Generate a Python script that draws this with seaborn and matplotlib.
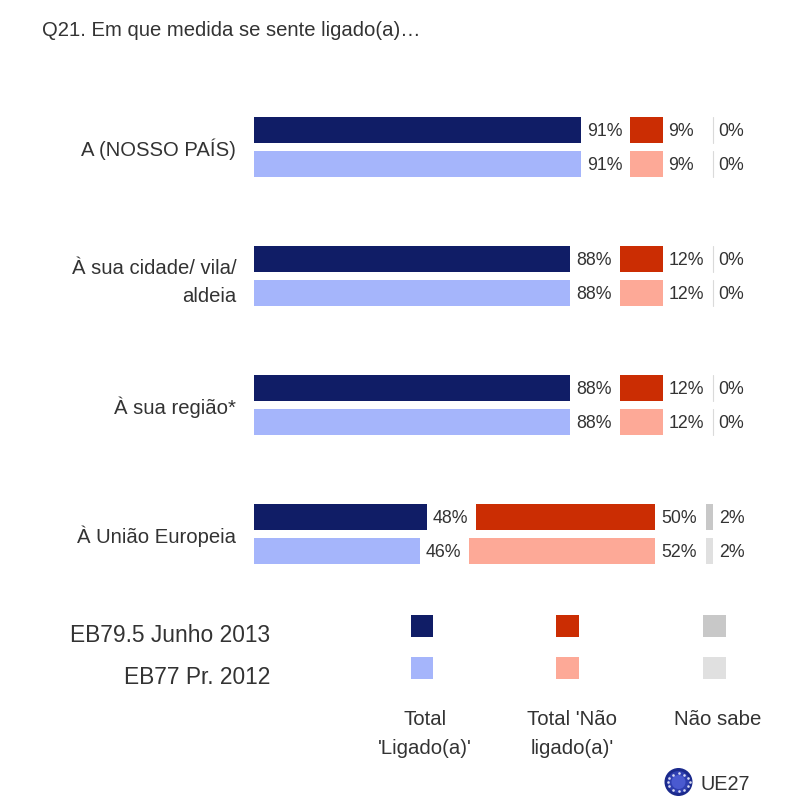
import matplotlib
matplotlib.use("Agg")
import matplotlib.pyplot as plt
import pandas as pd
import seaborn as sns
from matplotlib.patches import Circle, Rectangle

categories = ["A (NOSSO PAÍS)", "À sua cidade/ vila/\naldeia", "À sua região*", "À União Europeia"]
waves = ["EB79.5 Junho 2013", "EB77 Pr. 2012"]
ligado_2013 = [91, 88, 88, 48]
ligado_2012 = [91, 88, 88, 46]
nao_ligado_2013 = [9, 12, 12, 50]
nao_ligado_2012 = [9, 12, 12, 52]
nao_sabe_2013 = [0, 0, 0, 2]
nao_sabe_2012 = [0, 0, 0, 2]
legend_titles = ["Total\n'Ligado(a)'", "Total 'Não\nligado(a)'", "Não sabe"]
title = "Q21. Em que medida se sente ligado(a)…"

colors = {
    "lig": ["#101D66", "#A5B5FB"],
    "nao": ["#CB2D03", "#FDA997"],
    "ns": ["#C8C8C8", "#E0E0E0"],
}
TXT = "#333333"
FONT = "Liberation Sans"
GAP1, GAP2 = 13.7, 14.0

sns.set_theme(style="white")
plt.rcParams["font.family"] = [FONT, "DejaVu Sans"]

fig = plt.figure(figsize=(8.06, 8.06), dpi=100, facecolor="white")
W = H = 806.0
ax = fig.add_axes([254.4 / W, 1 - 598.4 / H, 500 / W, 516 / H])

df = pd.DataFrame({
    "cat": categories * 2,
    "wave": [waves[0]] * 4 + [waves[1]] * 4,
    "lig": ligado_2013 + ligado_2012,
})
sns.barplot(data=df, y="cat", x="lig", hue="wave", order=categories, hue_order=waves,
            palette=colors["lig"], width=0.527, gap=0.235, legend=False, ax=ax,
            saturation=1, errorbar=None, linewidth=0)

ax.set_xlim(0, 500 / 3.59)
ax.set_ylim(3.5, -0.5)
ax.set_xlabel("")
ax.set_ylabel("")
ax.set_xticks([])
ax.tick_params(axis="y", length=0, pad=13)
ax.set_yticks(range(4))
ax.set_yticklabels(categories, fontsize=14.6, color=TXT, ha="right", linespacing=1.6)
sns.despine(ax=ax, left=True, bottom=True, top=True, right=True)
ax.patch.set_alpha(0)

series = [
    (ligado_2013, nao_ligado_2013, nao_sabe_2013, 0),
    (ligado_2012, nao_ligado_2012, nao_sabe_2012, 1),
]
bars = list(ax.patches)
for lig, nao, ns, w in series:
    for i in range(4):
        bar = bars[w * 4 + i]
        yc = bar.get_y() + bar.get_height() / 2
        h = bar.get_height()
        left2 = lig[i] + GAP1
        ax.barh(yc, nao[i], height=h, left=left2, color=colors["nao"][w], linewidth=0)
        left3 = left2 + nao[i] + GAP2
        if ns[i] > 0:
            ax.barh(yc, ns[i], height=h, left=left3, color=colors["ns"][w], linewidth=0)
        else:
            ax.plot([left3, left3], [yc - h / 2, yc + h / 2], color="#DADADA", lw=0.8)
        for end, v in ((lig[i], lig[i]), (left2 + nao[i], nao[i]), (left3 + ns[i], ns[i])):
            ax.annotate(f"{v}%", (end, yc), xytext=(4.2, -1.0), textcoords="offset points",
                        ha="left", va="center", fontsize=12.8, color=TXT)

# Overlay in pixel coordinates for title, legend and badge
ov = fig.add_axes([0, 0, 1, 1], zorder=-1)
ov.set_xlim(0, W)
ov.set_ylim(H, 0)
ov.axis("off")

ov.text(42, 31, title, fontsize=14.6, color=TXT, ha="left", va="center")
ov.text(270, 635, waves[0], fontsize=16.4, color=TXT, ha="right", va="center")
ov.text(270, 677, waves[1], fontsize=16.4, color=TXT, ha="right", va="center")

for x0, key, tx, lab in ((410.5, "lig", 425, legend_titles[0]),
                         (556, "nao", 572, legend_titles[1]),
                         (703, "ns", 718, legend_titles[2])):
    for y0, c in zip((615, 657), colors[key]):
        ov.add_patch(Rectangle((x0, y0), 22.5, 22, color=c, lw=0))
    ov.text(tx, 710, lab, fontsize=14.7, color=TXT, ha="center", va="top", linespacing=1.7)

# EU badge
for r, c in ((14, "#1B2A8C"), (11, "#2F3FB0"), (7, "#4A5AD0")):
    ov.add_patch(Circle((678.5, 782), r, color=c, lw=0))
ov.scatter([678.5, 684, 688, 689.5, 688, 684, 678.5, 673, 669, 667.5, 669, 673],
           [773, 774.5, 778, 782, 786, 789.5, 791, 789.5, 786, 782, 778, 774.5],
           s=3.5, color="#D8DCF5", linewidths=0)
ov.text(700, 784, "UE27", fontsize=14.3, color=TXT, ha="left", va="center")

fig.savefig("out.png", dpi=100)
